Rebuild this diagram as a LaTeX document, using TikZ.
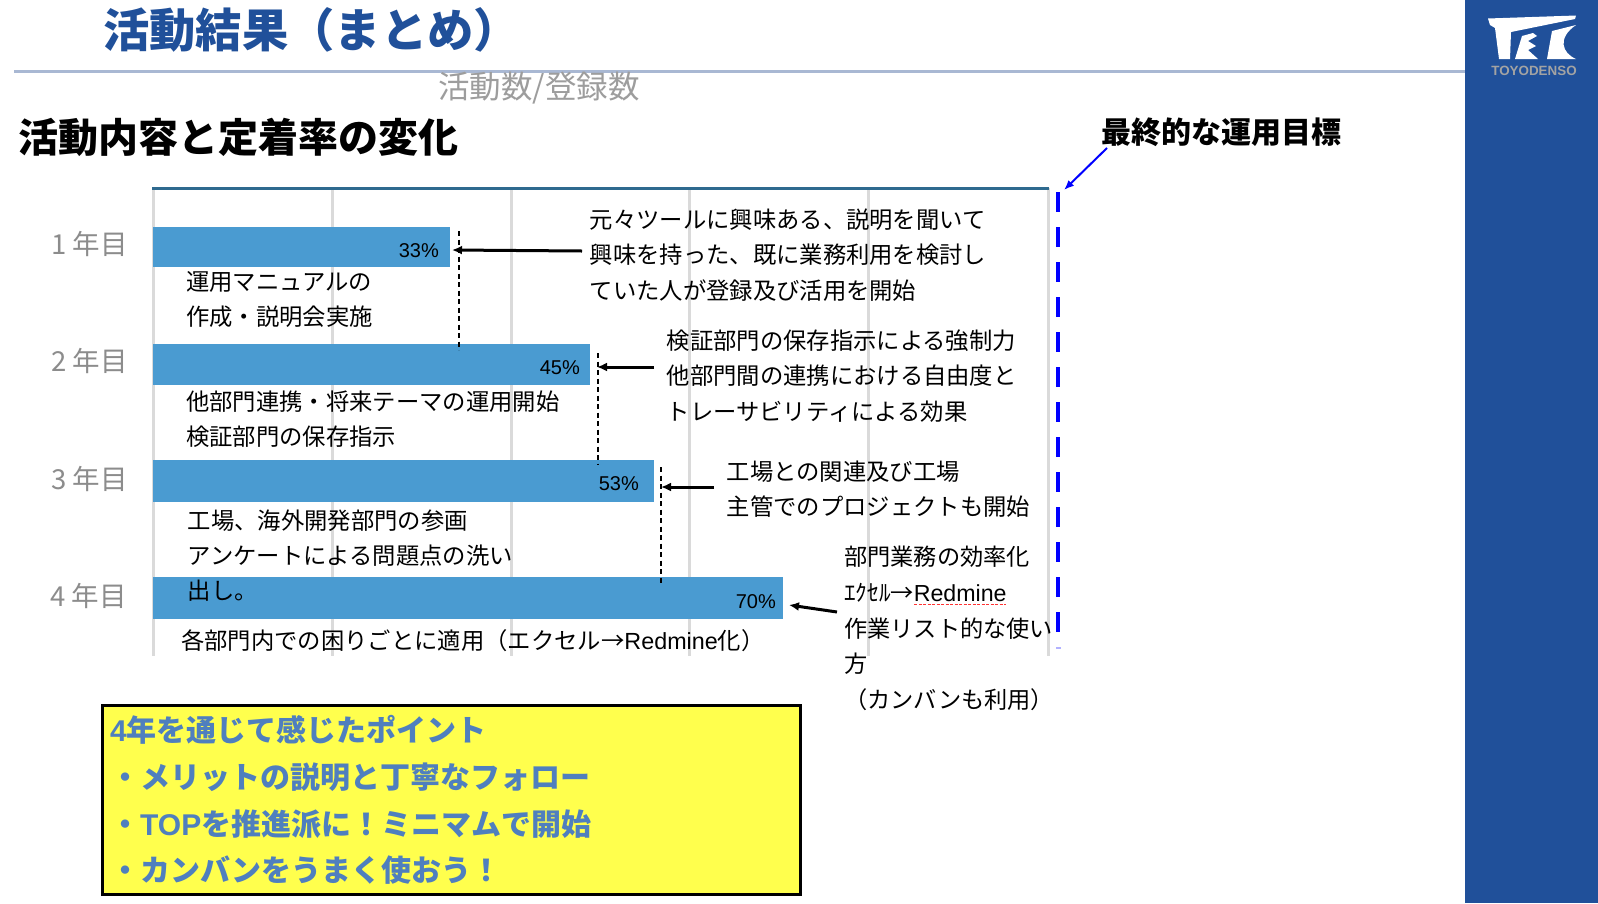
\documentclass[tikz,border=0pt]{standalone}
\usepackage{fontspec}
\setmainfont{Noto Sans CJK JP}
\newfontfamily\lat{Liberation Sans}
\usetikzlibrary{arrows.meta}
\definecolor{panelblue}{HTML}{20509A}
\definecolor{rulec}{HTML}{A9B8D3}
\definecolor{barc}{HTML}{4A9BD1}
\definecolor{gridc}{HTML}{DADADA}
\definecolor{topc}{HTML}{2F6A8F}
\definecolor{yearc}{HTML}{8C8C8C}
\definecolor{yel}{HTML}{FFFF4D}
\definecolor{ptc}{HTML}{4F7FBE}
\tikzset{
  bartxt/.style={inner sep=0pt,anchor=west,align=left,text=black,font=\fontsize{23.33}{35.2}\selectfont},
  yeartxt/.style={inner sep=0pt,anchor=west,text=yearc,font=\fontsize{27.5}{30}\selectfont},
  barbox/.style={fill=barc,draw=none,inner sep=0pt,anchor=north west,minimum height=40pt},
  pct/.style={inner sep=0pt,anchor=east,font=\lat\fontsize{20}{22}\selectfont},
  grid/.style={gridc,line width=3pt},
  lead/.style={black,dash pattern=on 5pt off 3.5pt,line width=1.1pt},
  arw/.style={-{Latex[length=10pt,width=9pt]},black,line width=3pt},
  ptline/.style={inner sep=0pt,anchor=west,text=ptc,font=\bfseries\fontsize{30}{32}\selectfont},
}
\begin{document}
\begin{tikzpicture}[x=1pt,y=-1pt]
\useasboundingbox (0,0) rectangle (1598,903);
\fill[white] (0,0) rectangle (1598,903);
% header
\draw[rulec,line width=3pt] (14,71) -- (1466,71);
\fill[panelblue] (1465,0) rectangle (1598,903);
\node[inner sep=0pt,anchor=west,text=panelblue,font=\bfseries\fontsize{46.3}{48}\selectfont] (title) at (103,30) {活動結果（まとめ）};
\node[inner sep=0pt,anchor=west,text=yearc!85,font=\fontsize{31.5}{33}\selectfont] (ratio) at (438,88) {活動数/登録数};
\node[inner sep=0pt,anchor=west,font=\bfseries\fontsize{40}{42}\selectfont] (head) at (18,137.5) {活動内容と定着率の変化};
\node[inner sep=0pt,anchor=west,font=\bfseries\fontsize{30}{32}\selectfont] (goal) at (1101,132) {最終的な運用目標};
% logo
\fill[white] (1488,18.5) -- (1576,15.5) -- (1575,19) -- (1511,32) -- (1510,59) -- (1499,59) -- (1495,28) -- (1490,25) -- cycle;
\fill[white] (1515,59) -- (1538,59) -- (1528,50) -- (1536,46) -- (1528,41) -- (1537,36) -- (1533,33) -- (1522,36) -- cycle;
\fill[white] (1547,59) -- (1576,59) .. controls (1562,53) and (1557,38) .. (1576,25) -- (1552,31) -- cycle;
\node[inner sep=0pt,text=yearc!80!white,font=\lat\bfseries\fontsize{13.4}{15}\selectfont] (brand) at (1534,71) {TOYODENSO};
% chart grid
\foreach \x in {153,332,511,689,868,1048}{\draw[grid] (\x,188) -- (\x,656);}
\draw[topc,line width=3pt] (152,188.5) -- (1049,188.5);
% bars
\node[barbox,minimum width=296.5pt] (b1) at (153,227) {};
\node[barbox,minimum width=437pt,minimum height=41pt] (b2) at (153,344) {};
\node[barbox,minimum width=501pt,minimum height=42pt] (b3) at (153,460) {};
\node[barbox,minimum width=630pt,minimum height=42pt] (b4) at (153,577) {};
\node[pct] (p1) at (439,250.5) {33\%};
\node[pct] (p2) at (580,367.5) {45\%};
\node[pct] (p3) at (639,484) {53\%};
\node[pct] (p4) at (776,601.5) {70\%};
% year labels
\node[yeartxt] (y1) at (51,243.5) {1 年目};
\node[yeartxt] (y2) at (51,360.5) {2 年目};
\node[yeartxt] (y3) at (51,478.5) {3 年目};
\node[yeartxt] (y4) at (50,596) {4 年目};
% leader lines
\coordinate (d1a) at (459,231); \coordinate (d1b) at (459,350);
\coordinate (d2a) at (598,353); \coordinate (d2b) at (598,465);
\coordinate (d3a) at (661,467); \coordinate (d3b) at (661,583);
\draw[lead] (d1a) -- (d1b);
\draw[lead] (d2a) -- (d2b);
\draw[lead] (d3a) -- (d3b);
% target
\coordinate (t1) at (1058,192); \coordinate (t2) at (1058,634);
\draw[blue,line width=4.5pt,dash pattern=on 20pt off 15pt] (t1) -- (t2);
\fill[blue!30] (1056,647) rectangle (1061,648.5);
\coordinate (g1) at (1107,148); \coordinate (g2) at (1064,190);
\draw[-{Latex[length=10pt,width=8pt]},blue,line width=2pt] (g1) -- (g2);
% texts
\node[bartxt] (c1) at (589.5,255) {元々ツールに興味ある、説明を聞いて\\興味を持った、既に業務利用を検討し\\ていた人が登録及び活用を開始};
\node[bartxt] (c2) at (666.5,376) {検証部門の保存指示による強制力\\他部門間の連携における自由度と\\トレーサビリティによる効果};
\node[bartxt] (c3) at (726.5,489) {工場との関連及び工場\\主管でのプロジェクトも開始};
\node[bartxt] (l1) at (186,299.5) {運用マニュアルの\\作成・説明会実施};
\node[bartxt] (l2) at (186,419) {他部門連携・将来テーマの運用開始\\検証部門の保存指示};
\node[bartxt] (l3) at (187.5,555.5) {工場、海外開発部門の参画\\アンケートによる問題点の洗い\\出し。};
\node[bartxt] (l4) at (181,641) {各部門内での困りごとに適用（エクセル→{\lat Redmine}化）};
\node[bartxt,font=\fontsize{23.2}{35.8}\selectfont] (c4) at (844,628.5) {部門業務の効率化\\ｴｸｾﾙ→{\lat Redmine}\\作業リスト的な使い\\方\\（カンバンも利用）};
\draw[red!80,line width=1.6pt,dash pattern=on 3pt off 1.5pt] (914,604.5) -- (1006,604.5);
% arrows
\coordinate (a1s) at (582,251); \coordinate (a1e) at (452,250);
\coordinate (a2s) at (654,367); \coordinate (a2e) at (597,367);
\coordinate (a3s) at (714,487); \coordinate (a3e) at (661,487);
\coordinate (a4s) at (837,612); \coordinate (a4e) at (789,605);
\draw[arw] (a1s) -- (a1e);
\draw[arw] (a2s) -- (a2e);
\draw[arw] (a3s) -- (a3e);
\draw[arw] (a4s) -- (a4e);
% points box
\node[draw=black,fill=yel,line width=3pt,inner sep=0pt,anchor=north west,minimum width=698pt,minimum height=189pt] (box) at (101,704) {};
\node[ptline] (p0) at (110,729.5) {{\lat 4}年を通じて感じたポイント};
\node[ptline] (p5) at (110,777) {・メリットの説明と丁寧なフォロー};
\node[ptline] (p6) at (110,824) {・{\lat TOP}を推進派に！ミニマムで開始};
\node[ptline] (p7) at (110,870.5) {・カンバンをうまく使おう！};
\end{tikzpicture}
\end{document}
